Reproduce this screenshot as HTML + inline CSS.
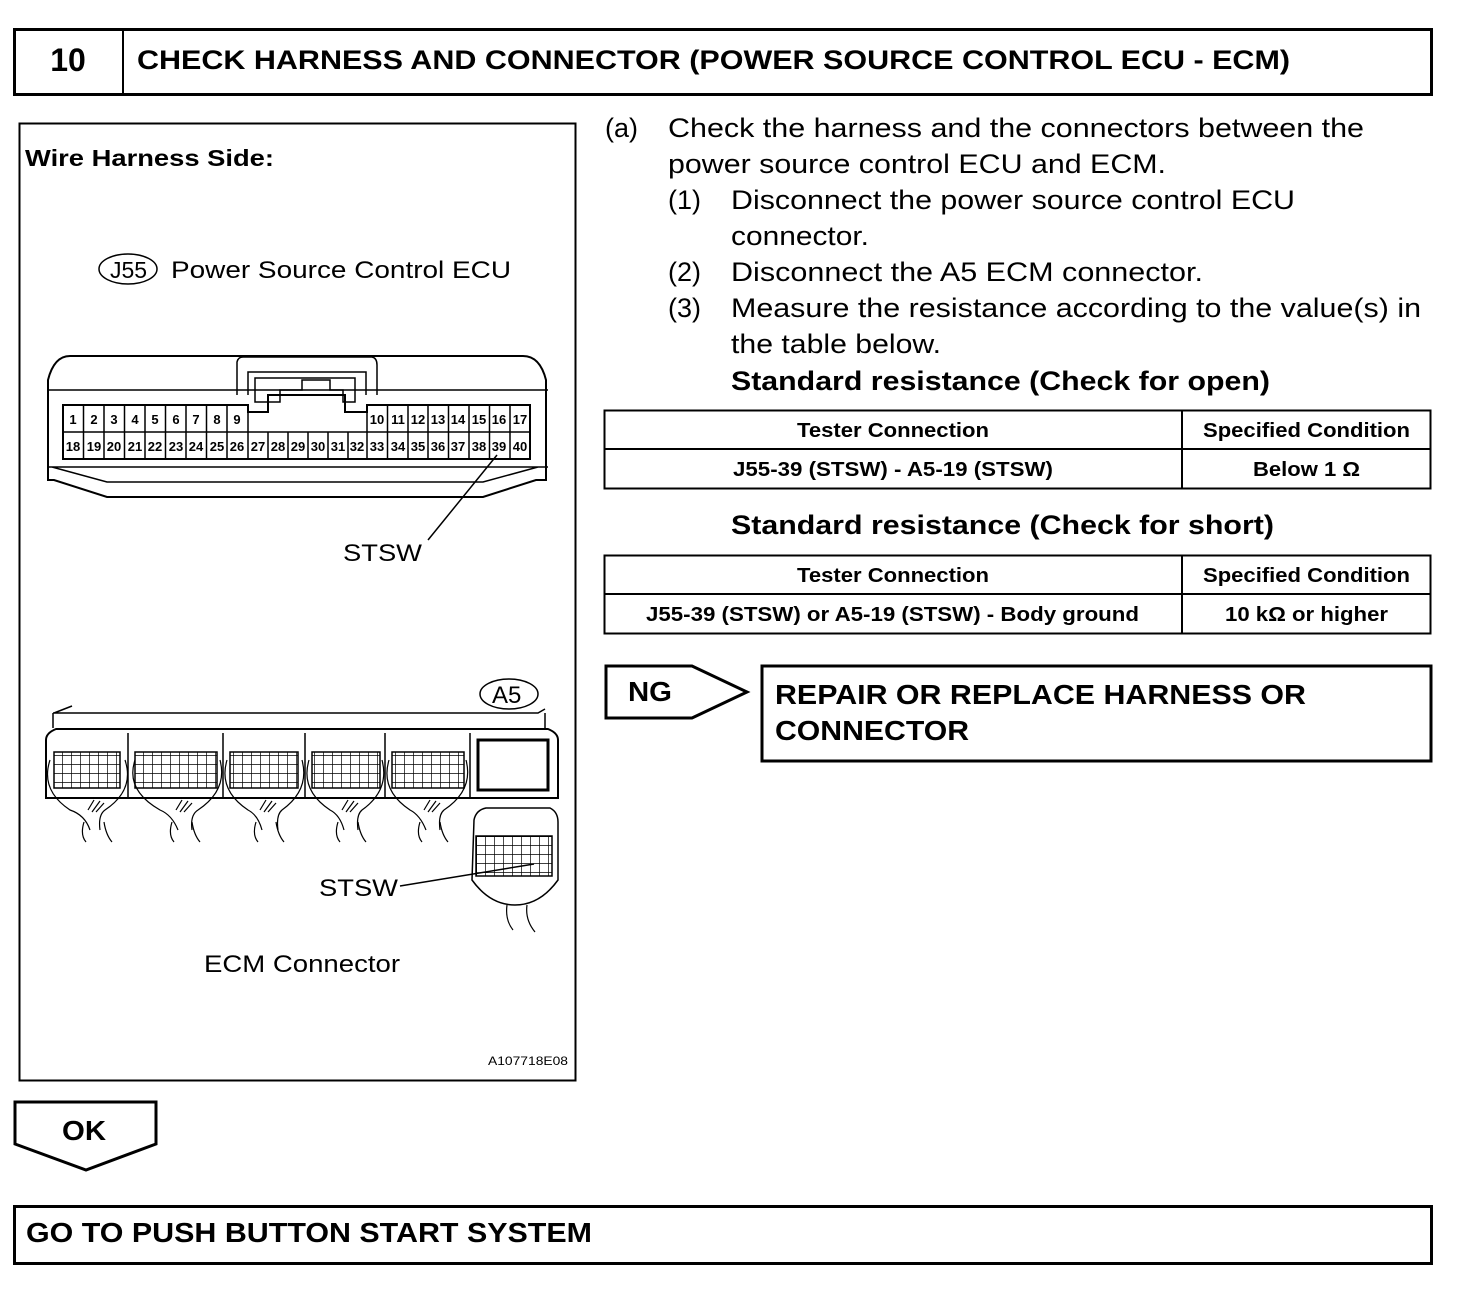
<!DOCTYPE html>
<html><head><meta charset="utf-8"><style>
body{margin:0;background:#fff;}
svg{display:block;font-family:"Liberation Sans",Arial,sans-serif;}
</style></head><body>
<svg width="1472" height="1304" viewBox="0 0 1472 1304" xmlns="http://www.w3.org/2000/svg">
<defs>
<pattern id="g" width="9" height="9" patternUnits="userSpaceOnUse"><path d="M9 0V9M0 9H9" stroke="#000" stroke-width="1.4" fill="none"/></pattern>
</defs>
<g fill="none" stroke="#000">
<rect x="14.5" y="29.5" width="1417" height="65" stroke-width="3"/>
<line x1="123" y1="29" x2="123" y2="95" stroke-width="2"/>
<rect x="19.5" y="123.5" width="556" height="957" stroke-width="2"/>
<rect x="604.5" y="410.5" width="826" height="78" stroke-width="2"/>
<line x1="604" y1="449" x2="1431" y2="449" stroke-width="2"/>
<line x1="1182" y1="410" x2="1182" y2="489" stroke-width="2"/>
<rect x="604.5" y="555.5" width="826" height="78" stroke-width="2"/>
<line x1="604" y1="594" x2="1431" y2="594" stroke-width="2"/>
<line x1="1182" y1="555" x2="1182" y2="634" stroke-width="2"/>
<path d="M606 666H692L747 692L692 718H606Z" stroke-width="3"/>
<rect x="762" y="666" width="669" height="95" stroke-width="3"/>
<path d="M15 1102H156V1144L86 1170L15 1144Z" stroke-width="3"/>
<rect x="14.5" y="1206.5" width="1417" height="57" stroke-width="3"/>
<ellipse cx="128" cy="269" rx="29" ry="15" stroke-width="1.5"/>
<path d="M70 356H523Q540 356 546 380V480H536L483 497H107L54 480H48V380Q54 356 70 356Z" stroke-width="2"/>
<path d="M48 390H548M48 467H548M52 467L107 482H483L538 467" stroke-width="1.5"/>
<path d="M237 395V362Q238 357 243 357H372Q377 358 377 365V395M248 395V372H366V395" stroke-width="1.5"/>
<path d="M255 378H355V402H343V390H330V380H302V390H280V402H255Z" stroke-width="1.5"/>
<path d="M63 405H248V412H268V395H345V412H367V405H530V459H63Z" stroke-width="2"/>
<line x1="63" y1="432" x2="530" y2="432" stroke-width="1.5"/>
</g>
<g stroke="#000" stroke-width="1.5">
<line x1="83.5" y1="405" x2="83.5" y2="459"/><line x1="104" y1="405" x2="104" y2="459"/><line x1="124.5" y1="405" x2="124.5" y2="459"/><line x1="145" y1="405" x2="145" y2="459"/><line x1="165.5" y1="405" x2="165.5" y2="459"/><line x1="186" y1="405" x2="186" y2="459"/><line x1="206.5" y1="405" x2="206.5" y2="459"/><line x1="227" y1="405" x2="227" y2="459"/><line x1="248" y1="405" x2="248" y2="459"/>
<line x1="268" y1="432" x2="268" y2="459"/><line x1="288" y1="432" x2="288" y2="459"/><line x1="308" y1="432" x2="308" y2="459"/><line x1="328" y1="432" x2="328" y2="459"/><line x1="348" y1="432" x2="348" y2="459"/>
<line x1="367" y1="405" x2="367" y2="459"/><line x1="387.5" y1="405" x2="387.5" y2="459"/><line x1="408" y1="405" x2="408" y2="459"/><line x1="428" y1="405" x2="428" y2="459"/><line x1="448.5" y1="405" x2="448.5" y2="459"/><line x1="469" y1="405" x2="469" y2="459"/><line x1="489.5" y1="405" x2="489.5" y2="459"/><line x1="510" y1="405" x2="510" y2="459"/>
</g>
<g font-size="13" font-weight="bold" text-anchor="middle" fill="#000">
<text x="73" y="424">1</text><text x="94" y="424">2</text><text x="114" y="424">3</text><text x="135" y="424">4</text><text x="155" y="424">5</text><text x="176" y="424">6</text><text x="196" y="424">7</text><text x="217" y="424">8</text><text x="237" y="424">9</text>
<text x="377" y="424">10</text><text x="398" y="424">11</text><text x="418" y="424">12</text><text x="438" y="424">13</text><text x="458" y="424">14</text><text x="479" y="424">15</text><text x="499" y="424">16</text><text x="520" y="424">17</text>
<text x="73" y="451">18</text><text x="94" y="451">19</text><text x="114" y="451">20</text><text x="135" y="451">21</text><text x="155" y="451">22</text><text x="176" y="451">23</text><text x="196" y="451">24</text><text x="217" y="451">25</text><text x="237" y="451">26</text><text x="258" y="451">27</text><text x="278" y="451">28</text><text x="298" y="451">29</text><text x="318" y="451">30</text><text x="338" y="451">31</text><text x="357" y="451">32</text><text x="377" y="451">33</text><text x="398" y="451">34</text><text x="418" y="451">35</text><text x="438" y="451">36</text><text x="458" y="451">37</text><text x="479" y="451">38</text><text x="499" y="451">39</text><text x="520" y="451">40</text>
</g>
<g fill="none" stroke="#000">
<line x1="497" y1="455" x2="428" y2="540" stroke-width="1.5"/>
<ellipse cx="509" cy="694" rx="29" ry="15" stroke-width="1.5"/>
<path d="M54 713L72 706M53 713H538L545 709M53 713V728M545 713V728" stroke-width="1.5"/>
<path d="M46 740Q46 733 56 729H548Q558 733 558 740V798H46Z" stroke-width="2"/>
<path d="M128 733V798M223 733V798M305 733V798M385 733V798M470 733V798" stroke-width="1.5"/>
<rect x="478" y="740" width="70" height="50" stroke-width="3"/>
<rect x="54" y="752" width="66" height="36" fill="url(#g)" stroke-width="1.5"/>
<rect x="135" y="752" width="82" height="36" fill="url(#g)" stroke-width="1.5"/>
<rect x="230" y="752" width="68" height="36" fill="url(#g)" stroke-width="1.5"/>
<rect x="312" y="752" width="68" height="36" fill="url(#g)" stroke-width="1.5"/>
<rect x="392" y="752" width="72" height="36" fill="url(#g)" stroke-width="1.5"/>
<g stroke-width="1.2">
<path d="M50 760Q40 790 70 810Q85 815 90 830M125 760Q135 790 105 810Q98 815 100 830"/>
<path d="M135 760Q125 790 160 810Q172 815 178 830M220 760Q228 790 198 810Q190 815 192 830"/>
<path d="M227 760Q218 790 248 810Q258 815 262 830M302 760Q310 790 282 810Q276 815 278 830"/>
<path d="M309 760Q300 790 330 810Q340 815 344 830M382 760Q390 790 362 810Q356 815 358 830"/>
<path d="M389 760Q380 790 410 810Q420 815 426 830M466 760Q474 790 444 810Q438 815 440 830"/>
<path d="M84 822Q80 835 86 842M104 822Q106 835 112 842M172 822Q168 835 174 842M192 822Q194 835 200 842M256 822Q252 835 258 842M276 822Q278 835 284 842M338 822Q334 835 340 842M358 822Q360 835 366 842M420 822Q416 835 422 842M440 822Q442 835 448 842"/>
<path d="M88 810L94 800M92 812L100 801M96 812L104 803M176 810L182 800M180 812L188 801M184 812L192 803M260 810L266 800M264 812L272 801M268 812L276 803M342 810L348 800M346 812L354 801M350 812L358 803M424 810L430 800M428 812L436 801M432 812L440 803"/>
</g>
<path d="M474 820Q476 810 486 808H550Q558 812 558 822V880Q540 905 515 905Q490 905 472 880Z" stroke-width="1.5"/>
<rect x="476" y="836" width="76" height="40" fill="url(#g)" stroke-width="1.5"/>
<path d="M507 905Q505 920 513 930M527 905Q525 920 535 932" stroke-width="1.2"/>
<line x1="400" y1="886" x2="534" y2="864" stroke-width="1.5"/>
</g>
<g fill="#000" lengthAdjust="spacingAndGlyphs">
<text x="68" y="71" font-size="32" font-weight="bold" text-anchor="middle">10</text>
<text x="137" y="69" font-size="27" font-weight="bold" textLength="1153" lengthAdjust="spacingAndGlyphs">CHECK HARNESS AND CONNECTOR (POWER SOURCE CONTROL ECU - ECM)</text>
<text x="25" y="166" font-size="23" font-weight="bold" textLength="249" lengthAdjust="spacingAndGlyphs">Wire Harness Side:</text>
<text x="110" y="278" font-size="23">J55</text>
<text x="171" y="278" font-size="24" textLength="340" lengthAdjust="spacingAndGlyphs">Power Source  Control ECU</text>
<text x="343" y="561" font-size="24" textLength="79" lengthAdjust="spacingAndGlyphs">STSW</text>
<text x="492" y="703" font-size="24">A5</text>
<text x="319" y="896" font-size="24" textLength="79" lengthAdjust="spacingAndGlyphs">STSW</text>
<text x="204" y="972" font-size="24" textLength="196" lengthAdjust="spacingAndGlyphs">ECM Connector</text>
<text x="488" y="1065" font-size="12" textLength="80" lengthAdjust="spacingAndGlyphs">A107718E08</text>
<g font-size="27">
<text x="605" y="137">(a)</text><text x="668" y="137" textLength="696" lengthAdjust="spacingAndGlyphs">Check the harness and the connectors between the</text>
<text x="668" y="173" textLength="498" lengthAdjust="spacingAndGlyphs">power source control ECU and ECM.</text>
<text x="668" y="209">(1)</text><text x="731" y="209" textLength="564" lengthAdjust="spacingAndGlyphs">Disconnect the power source control ECU</text>
<text x="731" y="245" textLength="138" lengthAdjust="spacingAndGlyphs">connector.</text>
<text x="668" y="281">(2)</text><text x="731" y="281" textLength="472" lengthAdjust="spacingAndGlyphs">Disconnect the A5 ECM connector.</text>
<text x="668" y="317">(3)</text><text x="731" y="317" textLength="690" lengthAdjust="spacingAndGlyphs">Measure the resistance according to the value(s) in</text>
<text x="731" y="353" textLength="210" lengthAdjust="spacingAndGlyphs">the table below.</text>
<text x="731" y="390" font-weight="bold" textLength="539" lengthAdjust="spacingAndGlyphs">Standard resistance (Check for open)</text>
<text x="731" y="534" font-weight="bold" textLength="543" lengthAdjust="spacingAndGlyphs">Standard resistance (Check for short)</text>
</g>
<g font-size="20" font-weight="bold">
<text x="797" y="437" textLength="192" lengthAdjust="spacingAndGlyphs">Tester Connection</text><text x="1203" y="437" textLength="207" lengthAdjust="spacingAndGlyphs">Specified Condition</text>
<text x="733" y="476" textLength="320" lengthAdjust="spacingAndGlyphs">J55-39 (STSW) - A5-19 (STSW)</text><text x="1253" y="476" textLength="107" lengthAdjust="spacingAndGlyphs">Below 1 Ω</text>
<text x="797" y="582" textLength="192" lengthAdjust="spacingAndGlyphs">Tester Connection</text><text x="1203" y="582" textLength="207" lengthAdjust="spacingAndGlyphs">Specified Condition</text>
<text x="646" y="621" textLength="493" lengthAdjust="spacingAndGlyphs">J55-39 (STSW) or A5-19 (STSW) - Body ground</text><text x="1225" y="621" textLength="163" lengthAdjust="spacingAndGlyphs">10 kΩ or higher</text>
</g>
<g font-size="28" font-weight="bold">
<text x="628" y="701" textLength="44" lengthAdjust="spacingAndGlyphs">NG</text>
<text x="775" y="704" textLength="531" lengthAdjust="spacingAndGlyphs">REPAIR OR REPLACE HARNESS OR</text>
<text x="775" y="740" textLength="194" lengthAdjust="spacingAndGlyphs">CONNECTOR</text>
<text x="62" y="1140" textLength="44" lengthAdjust="spacingAndGlyphs">OK</text>
<text x="26" y="1242" textLength="566" lengthAdjust="spacingAndGlyphs">GO TO PUSH BUTTON START SYSTEM</text>
</g>
</g>
</svg>
</body></html>
